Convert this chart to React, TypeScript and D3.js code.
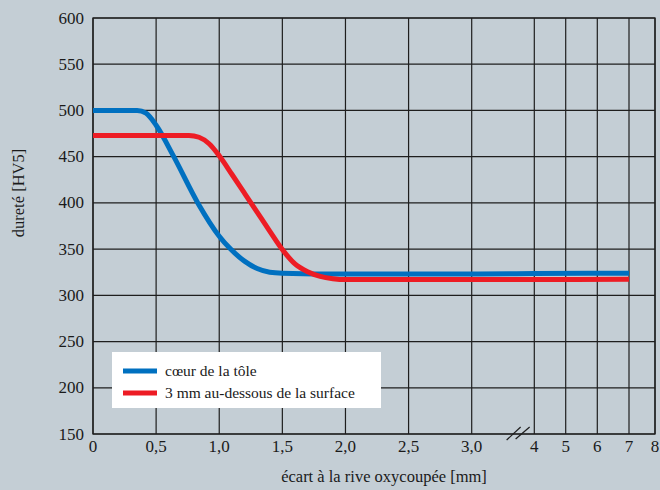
import React from "react";
import * as d3 from "d3";

const W = 660;
const H = 490;

const xTickValues = [0, 0.5, 1.0, 1.5, 2.0, 2.5, 3.0, 4, 5, 6, 7, 8];
const xTickLabels = ["0", "0,5", "1,0", "1,5", "2,0", "2,5", "3,0", "4", "5", "6", "7", "8"];
const yTickValues = [150, 200, 250, 300, 350, 400, 450, 500, 550, 600];

const blueX = [0, 0.35, 0.42, 0.5, 0.64, 0.83, 1.0, 1.09, 1.2, 1.3, 1.4, 1.5, 2.0, 3.0, 4, 7];
const blueY = [500, 500, 497, 484, 450, 400, 364, 350, 337, 329, 325, 324, 323, 323, 323.5, 324];
const redX = [0, 0.76, 0.84, 0.92, 1.0, 1.1, 1.2, 1.3, 1.4, 1.5, 1.6, 1.7, 1.8, 1.9, 2.0, 3.0, 7];
const redY = [473, 473, 471, 464, 451, 431, 410.5, 390, 369.5, 349.5, 334, 325.5, 320.5, 318, 317, 317, 317.5];

const seriesNames = ["cœur de la tôle", "3 mm au-dessous de la surface"];
const seriesColors = ["#0070c0", "#ed1c24"];

export default function App() {
  const left = 93, right = 655, top = 18, bottom = 434;
  const x = d3
    .scaleLinear()
    .domain([0, 3, 4, 5, 6, 7, 8])
    .range([left, 471.7, 534.3, 565.7, 597.3, 629, right]);
  const y = d3.scaleLinear().domain([150, 600]).range([bottom, top]);

  const line = d3
    .line<[number, number]>()
    .x((d) => x(d[0]))
    .y((d) => y(d[1]))
    .curve(d3.curveMonotoneX);

  const blue: [number, number][] = blueX.map((v, i) => [v, blueY[i]]);
  const red: [number, number][] = redX.map((v, i) => [v, redY[i]]);

  const font =
    "'Liberation Serif', 'Times New Roman', Times, Tinos, 'DejaVu Serif', 'Noto Serif', serif";
  const gridColor = "#1e1e1e";
  const xb = x(3.75);
  const ts = { fontFamily: font } as React.CSSProperties;

  return (
    <svg
      width={W}
      height={H}
      style={{ position: "fixed", left: 0, top: 0, display: "block", fontFamily: font }}
    >
      <rect x={0} y={0} width={W} height={H} fill="#c4ced5" />
      {yTickValues.map((v) => (
        <line key={"h" + v} x1={left} x2={right} y1={y(v)} y2={y(v)} stroke={gridColor} strokeWidth={1.2} />
      ))}
      {xTickValues.map((v) => (
        <line key={"v" + v} x1={x(v)} x2={x(v)} y1={top} y2={bottom} stroke={gridColor} strokeWidth={1.2} />
      ))}
      <rect x={left} y={top} width={right - left} height={bottom - top} fill="none" stroke={gridColor} strokeWidth={1.3} />
      <line x1={xb - 12} y1={bottom + 6} x2={xb + 2} y2={bottom - 7} stroke="#1e1e1e" strokeWidth={1.2} />
      <line x1={xb - 3} y1={bottom + 5} x2={xb + 11} y2={bottom - 7} stroke="#1e1e1e" strokeWidth={1.2} />

      <path d={line(blue) || ""} fill="none" stroke={seriesColors[0]} strokeWidth={5} strokeLinejoin="round" />
      <path d={line(red) || ""} fill="none" stroke={seriesColors[1]} strokeWidth={5} strokeLinejoin="round" />

      {yTickValues.map((v) => (
        <text key={"yl" + v} style={ts} x={84} y={y(v)} dy="0.33em" textAnchor="end" fontSize={17} fill="#1a1a1a">
          {v}
        </text>
      ))}
      {xTickValues.map((v, i) => (
        <text key={"xl" + v} style={ts} x={x(v)} y={452} textAnchor="middle" fontSize={17} fill="#1a1a1a">
          {xTickLabels[i]}
        </text>
      ))}
      <text style={ts} x={384} y={482} textAnchor="middle" fontSize={16.5} fill="#1a1a1a">
        écart à la rive oxycoupée [mm]
      </text>
      <text
        style={ts}
        transform={`translate(24,193) rotate(-90)`}
        textAnchor="middle"
        fontSize={16.5}
        fill="#1a1a1a"
      >
        dureté [HV5]
      </text>

      <rect x={112} y={352} width={269} height={56} fill="#ffffff" />
      {seriesNames.map((n, i) => (
        <g key={n}>
          <line x1={123} x2={157} y1={371 + i * 22} y2={371 + i * 22} stroke={seriesColors[i]} strokeWidth={5} />
          <text style={ts} x={165} y={371 + i * 22} dy="0.33em" fontSize={15.5} fill="#1a1a1a">
            {n}
          </text>
        </g>
      ))}
    </svg>
  );
}
